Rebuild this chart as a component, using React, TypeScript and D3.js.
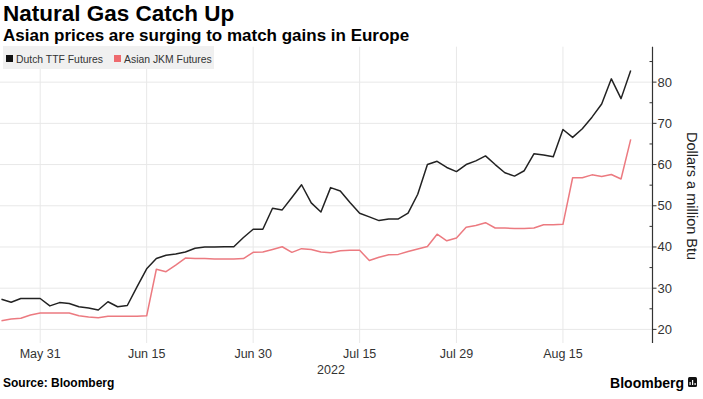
import React, { useEffect, useRef } from "react";
import * as d3 from "d3";

// trading days (weekdays) from May 25 to Aug 23, 2022
const startDate = new Date(2022, 4, 25);
const endDate = new Date(2022, 7, 24);

const ttfValues = [
  27.3, 26.6, 27.5, 27.5, 27.5, 25.7, 26.5, 26.3, 25.5, 25.2,
  24.7, 26.7, 25.5, 25.8, 30.3, 34.7, 37.2, 38.0, 38.3, 38.8,
  39.7, 40.0, 40.0, 40.05, 40.05, 42.3, 44.3, 44.3, 49.4, 49.0,
  52.0, 55.1, 50.7, 48.5, 54.4, 53.6, 50.8, 48.2, 47.3, 46.4,
  46.8, 46.8, 48.2, 52.8, 60.0, 60.8, 59.3, 58.3, 60.0, 60.9,
  62.1, 60.0, 58.0, 57.2, 58.5, 62.6, 62.3, 61.9, 68.5, 66.6,
  68.7, 71.5, 74.7, 80.8, 76.0, 82.8,
];

const jkmValues = [
  22.1, 22.5, 22.7, 23.5, 24.0, 24.0, 24.0, 24.0, 23.3, 23.0,
  22.8, 23.2, 23.2, 23.2, 23.2, 23.3, 34.6, 34.0, 35.6, 37.3,
  37.2, 37.2, 37.1, 37.1, 37.1, 37.2, 38.7, 38.8, 39.4, 40.05,
  38.7, 39.6, 39.4, 38.8, 38.6, 39.1, 39.2, 39.2, 36.7, 37.5,
  38.1, 38.2, 38.9, 39.5, 40.1, 43.1, 41.5, 42.2, 44.8, 45.2,
  45.9, 44.6, 44.6, 44.5, 44.5, 44.6, 45.4, 45.4, 45.5, 56.8,
  56.8, 57.5, 57.1, 57.6, 56.5, 66.1,
];

const seriesNames = ["Dutch TTF Futures", "Asian JKM Futures"];
const seriesColors = ["#222222", "#ec7a80"];
const tickDates = ["2022-05-31", "2022-06-15", "2022-06-30", "2022-07-15", "2022-07-29", "2022-08-15"];
const yTicks = [20, 30, 40, 50, 60, 70, 80];
const yMinorTicks = [25, 35, 45, 55, 65, 75, 85];

const W = 703;
const H = 399;
const font = "'Liberation Sans', Arial, sans-serif";

const App = () => {
  const ref = useRef(null);

  useEffect(() => {
    const svg = d3.select(ref.current);
    svg.selectAll("*").remove();

    const days = d3.timeDay.range(startDate, endDate).filter(d => d.getDay() !== 0 && d.getDay() !== 6);
    const fmt = d3.timeFormat("%Y-%m-%d");
    const dayIndex = new Map(days.map((d, i) => [fmt(d), i]));

    const plotRight = 652.5;
    const x = d3.scaleLinear().domain([-0.15, 67.25]).range([0, plotRight]);
    const y = d3.scaleLinear().domain([16.7, 88.6]).range([343, 46.7]);

    // title
    svg.append("text").attr("x", 3).attr("y", 21)
      .attr("font-family", font).attr("font-weight", "bold").attr("font-size", 22.5)
      .attr("fill", "#000").text("Natural Gas Catch Up");
    svg.append("text").attr("x", 3).attr("y", 40.5)
      .attr("font-family", font).attr("font-weight", "bold").attr("font-size", 17)
      .attr("fill", "#000").text("Asian prices are surging to match gains in Europe");

    // grid
    const grid = svg.append("g");
    grid.selectAll("line.h").data(yTicks).enter().append("line")
      .attr("x1", 0).attr("x2", plotRight)
      .attr("y1", d => y(d)).attr("y2", d => y(d))
      .attr("stroke", "#e8e8e8").attr("stroke-width", 1);
    grid.selectAll("line.v").data(tickDates).enter().append("line")
      .attr("x1", d => x(dayIndex.get(d))).attr("x2", d => x(dayIndex.get(d)))
      .attr("y1", y.range()[1]).attr("y2", y.range()[0])
      .attr("stroke", "#e8e8e8").attr("stroke-width", 1);

    // legend
    const legend = svg.append("g");
    legend.append("rect").attr("x", 3).attr("y", 46).attr("width", 211).attr("height", 23)
      .attr("fill", "#f0f0f0");
    const legendX = [6, 114];
    seriesNames.forEach((name, i) => {
      legend.append("rect").attr("x", legendX[i]).attr("y", 55).attr("width", 7).attr("height", 7)
        .attr("fill", i === 0 ? "#111" : "#ee6a6e");
      legend.append("text").attr("x", legendX[i] + 10).attr("y", 62.5)
        .attr("font-family", font).attr("font-size", 10.4).attr("fill", "#333").text(name);
    });

    // lines
    const line = d3.line().x((d, i) => x(i)).y(d => y(d));
    [jkmValues, ttfValues].forEach((vals, k) => {
      svg.append("path").datum(vals)
        .attr("d", line)
        .attr("fill", "none")
        .attr("stroke", k === 0 ? seriesColors[1] : seriesColors[0])
        .attr("stroke-width", 1.5)
        .attr("stroke-linejoin", "round");
    });

    // y axis
    const ax = svg.append("g");
    ax.append("line").attr("x1", plotRight).attr("x2", plotRight)
      .attr("y1", y.range()[1]).attr("y2", y.range()[0])
      .attr("stroke", "#333").attr("stroke-width", 1.2);
    ax.selectAll("line.maj").data(yTicks).enter().append("line")
      .attr("x1", plotRight).attr("x2", plotRight + 4)
      .attr("y1", d => y(d)).attr("y2", d => y(d))
      .attr("stroke", "#333");
    ax.selectAll("line.min").data(yMinorTicks).enter().append("line")
      .attr("x1", plotRight - 3).attr("x2", plotRight)
      .attr("y1", d => y(d)).attr("y2", d => y(d))
      .attr("stroke", "#333");
    ax.selectAll("text").data(yTicks).enter().append("text")
      .attr("x", plotRight + 5).attr("y", d => y(d) + 4.5)
      .attr("font-family", font).attr("font-size", 13).attr("fill", "#333")
      .text(d => d);
    svg.append("text")
      .attr("transform", `translate(686.5,196) rotate(90)`)
      .attr("text-anchor", "middle")
      .attr("font-family", font).attr("font-size", 14.5).attr("fill", "#222")
      .text("Dollars a million Btu");

    // x axis labels
    const xfmt = d3.timeFormat("%b %-d");
    svg.selectAll("text.xl").data(tickDates).enter().append("text")
      .attr("x", d => x(dayIndex.get(d))).attr("y", 358)
      .attr("text-anchor", "middle")
      .attr("font-family", font).attr("font-size", 12.5).attr("fill", "#333")
      .text(d => xfmt(d3.timeParse("%Y-%m-%d")(d)));
    svg.append("text").attr("x", 331).attr("y", 374).attr("text-anchor", "middle")
      .attr("font-family", font).attr("font-size", 12.5).attr("fill", "#333").text("2022");

    // footer
    svg.append("text").attr("x", 3).attr("y", 387)
      .attr("font-family", font).attr("font-weight", "bold").attr("font-size", 12)
      .attr("fill", "#000").text("Source: Bloomberg");
    svg.append("text").attr("x", 684).attr("y", 388).attr("text-anchor", "end")
      .attr("font-family", font).attr("font-weight", "bold").attr("font-size", 14)
      .attr("fill", "#000").text("Bloomberg");
    const logo = svg.append("g");
    logo.append("rect").attr("x", 688).attr("y", 377).attr("width", 9).attr("height", 10)
      .attr("rx", 1.5).attr("fill", "#111");
    [[690, 382, 3], [692.5, 380, 5], [695, 383, 2]].forEach(([bx, by, bh]) => {
      logo.append("rect").attr("x", bx - 0.5).attr("y", by).attr("width", 1.2).attr("height", bh)
        .attr("fill", "#fff");
    });
  }, []);

  return (
    <div style={{ position: "absolute", left: 0, top: 0 }}>
      <svg ref={ref} width={W} height={H} style={{ display: "block", background: "#fff" }} />
    </div>
  );
};

export default App;
